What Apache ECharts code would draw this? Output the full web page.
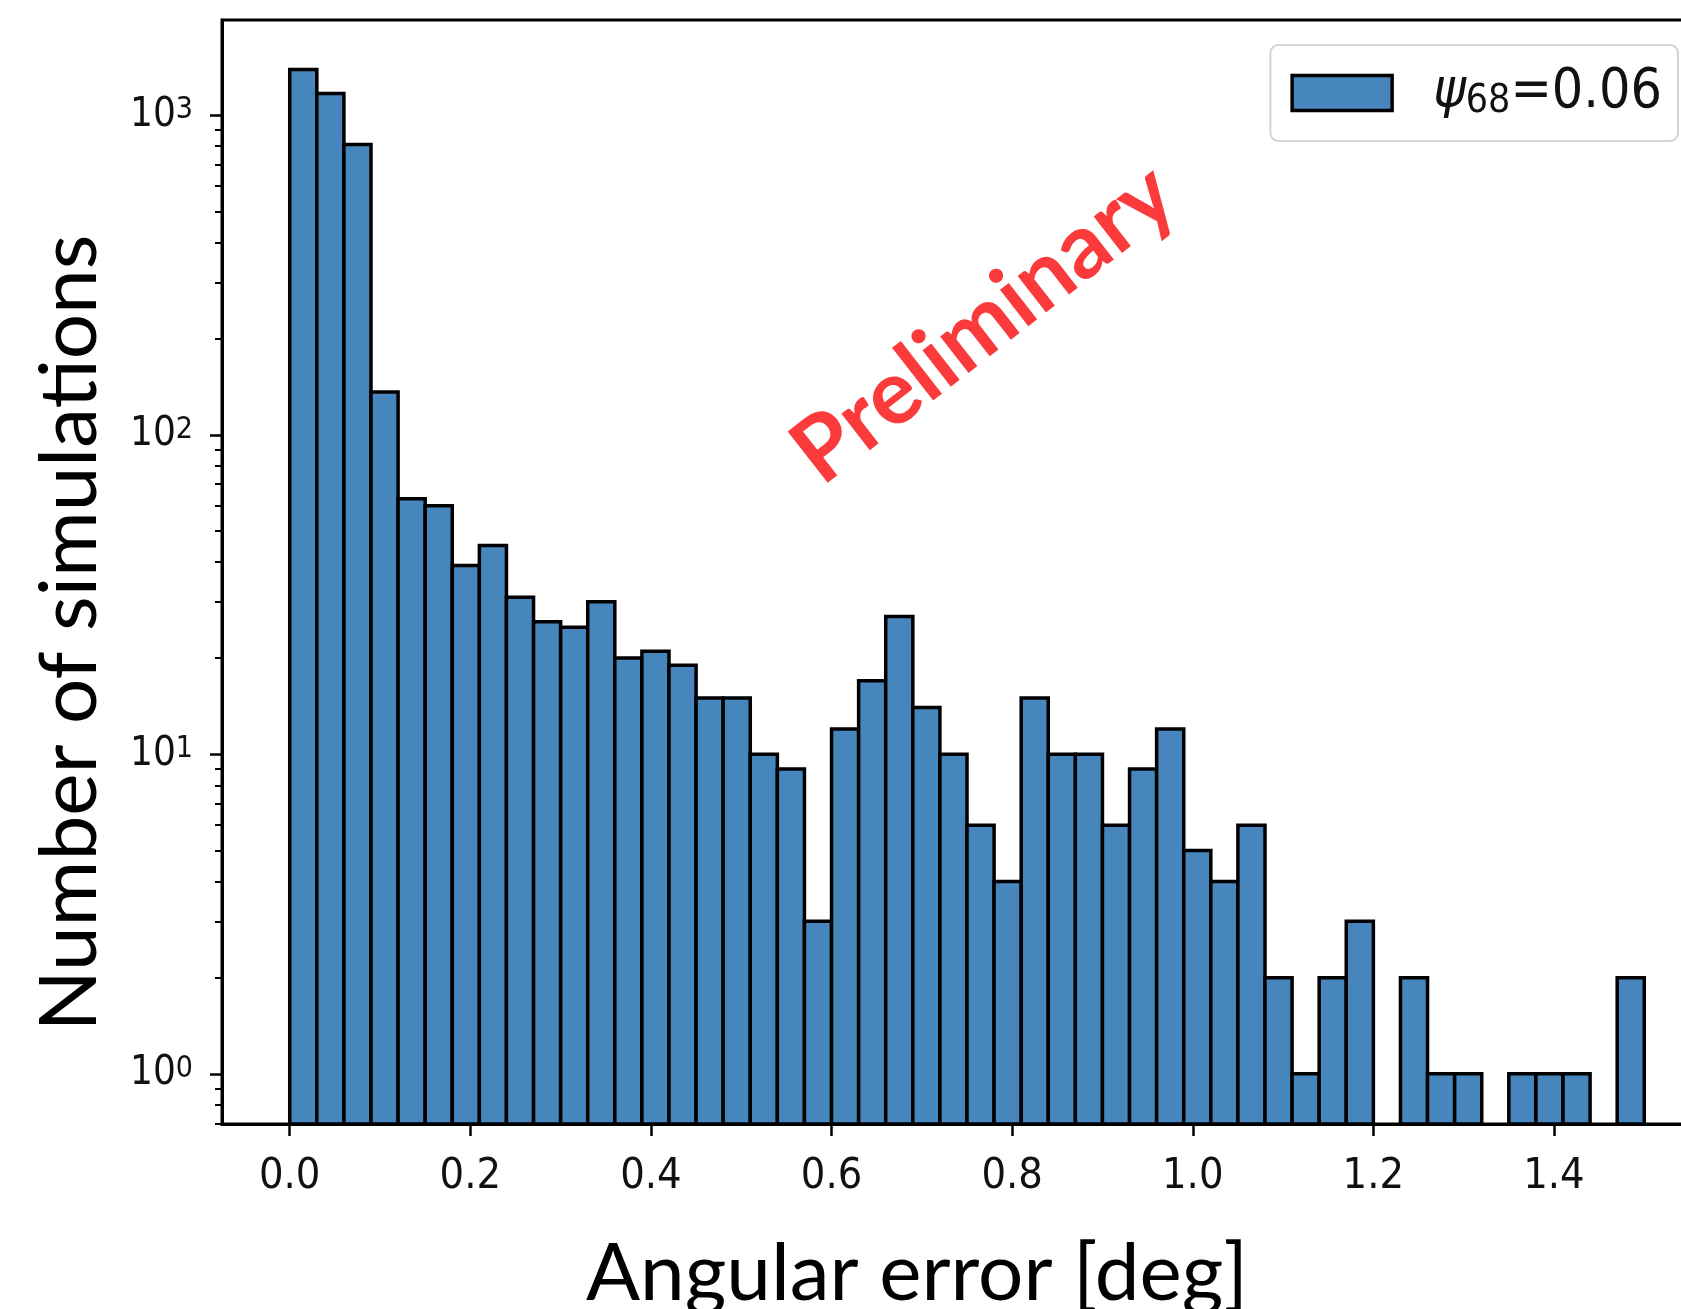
<!DOCTYPE html>
<html>
<head>
<meta charset="utf-8">
<script src="https://cdn.jsdelivr.net/npm/echarts@6/dist/echarts.min.js"></script>
<style>
  html, body { margin: 0; padding: 0; background: #ffffff; }
  #chart { width: 1681px; height: 1309px; }
</style>
</head>
<body>
<div id="chart"></div>
<script>
// Angular reconstruction error histogram, fixed-width bins starting at 0 deg
const binStart = 0.0;
const binWidth = 0.03;
const counts = [1390, 1170, 810, 136, 63, 60, 39, 45, 31, 26,
                25, 30, 20, 21, 19, 15, 15, 10, 9, 3,
                12, 17, 27, 14, 10, 6, 4, 15, 10, 10,
                6, 9, 12, 5, 4, 6, 2, 1, 2, 3,
                0, 2, 1, 1, 0, 1, 1, 1, 0, 2];
const xTicks = [0.0, 0.2, 0.4, 0.6, 0.8, 1.0, 1.2, 1.4];
const yMajorTicks = [1, 10, 100, 1000];
const yMinorTicks = [0.7, 0.8, 0.9, 2, 3, 4, 5, 6, 7, 8, 9,
                     20, 30, 40, 50, 60, 70, 80, 90,
                     200, 300, 400, 500, 600, 700, 800, 900];
const seriesName = 'ψ68=0.06';

const X_MIN = -0.075, X_MAX = 1.575;
const Y_MIN = 0.6966, Y_MAX = 1986;

const BAR_FILL = '#4786bd';
const EDGE_W = 3.5;
const TICK_FONT = "'DejaVu Sans Condensed', 'DejaVu Sans', sans-serif";
const TITLE_FONT = "Lato, 'Open Sans', sans-serif";

const binData = counts.map((c, i) => [
  binStart + i * binWidth,
  binStart + (i + 1) * binWidth,
  c > 0 ? c : '-'
]);

const chart = echarts.init(document.getElementById('chart'), null, { renderer: 'canvas' });

const logAxisBase = {
  type: 'log',
  logBase: 10,
  min: Y_MIN,
  max: Y_MAX,
  position: 'left',
  splitLine: { show: false },
  minorTick: { show: false },
  minorSplitLine: { show: false }
};

chart.setOption({
  backgroundColor: '#ffffff',
  animation: false,
  grid: {
    left: 222, top: 20, right: -31, bottom: 185,
    containLabel: false,
    outerBoundsMode: 'none',
    show: true,
    borderColor: '#000',
    borderWidth: 3,
    backgroundColor: 'transparent'
  },
  xAxis: {
    type: 'value',
    min: X_MIN,
    max: X_MAX,
    axisLine: { show: true, onZero: false, lineStyle: { color: '#000', width: 3 } },
    axisTick: { show: true, customValues: xTicks, length: 12, lineStyle: { color: '#000', width: 2.5 } },
    axisLabel: {
      customValues: xTicks,
      formatter: v => v.toFixed(1),
      color: '#111',
      fontFamily: TICK_FONT,
      fontSize: 43,
      margin: 31
    },
    splitLine: { show: false }
  },
  yAxis: [
    Object.assign({}, logAxisBase, {
      axisLine: { show: true, onZero: false, lineStyle: { color: '#000', width: 3 } },
      axisTick: { show: true, customValues: yMajorTicks, length: 12, lineStyle: { color: '#000', width: 2.5 } },
      axisLabel: {
        customValues: yMajorTicks,
        formatter: v => '10{sup|' + Math.round(Math.log10(v)) + '}',
        color: '#111',
        fontFamily: TICK_FONT,
        fontSize: 40,
        margin: 29,
        rich: {
          sup: { fontFamily: TICK_FONT, fontSize: 30, color: '#111', verticalAlign: 'top' }
        }
      }
    }),
    Object.assign({}, logAxisBase, {
      axisLine: { show: false, onZero: false },
      axisTick: { show: true, customValues: yMinorTicks, length: 7, lineStyle: { color: '#000', width: 2 } },
      axisLabel: { show: false }
    })
  ],
  legend: {
    right: 3,
    top: 45,
    icon: 'rect',
    itemWidth: 100,
    itemHeight: 35,
    padding: [20, 16, 20, 20],
    backgroundColor: 'rgba(255,255,255,0.8)',
    borderColor: '#d4d4d4',
    borderWidth: 2,
    borderRadius: 8,
    itemStyle: { color: BAR_FILL, borderColor: '#000', borderWidth: EDGE_W },
    data: [seriesName],
    formatter: () => '{psi|ψ}{sub|68}=0.06',
    textStyle: {
      color: '#111',
      fontFamily: TICK_FONT,
      fontSize: 55,
      lineHeight: 56,
      padding: [0, 0, 0, 36],
      rich: {
        psi: { fontFamily: TICK_FONT, fontSize: 55, fontStyle: 'italic', color: '#111' },
        sub: { fontFamily: TICK_FONT, fontSize: 39, color: '#111', verticalAlign: 'bottom' }
      }
    }
  },
  series: [{
    name: seriesName,
    type: 'custom',
    xAxisIndex: 0,
    yAxisIndex: 0,
    encode: { x: [0, 1], y: 2 },
    itemStyle: { color: BAR_FILL, borderColor: '#000', borderWidth: EDGE_W },
    data: binData,
    renderItem: (params, api) => {
      const v = api.value(2);
      if (!(v > 0)) return null;
      const topLeft = api.coord([api.value(0), v]);
      const bottomRight = api.coord([api.value(1), Y_MIN]);
      return {
        type: 'rect',
        shape: {
          x: topLeft[0],
          y: topLeft[1],
          width: bottomRight[0] - topLeft[0],
          height: bottomRight[1] - topLeft[1]
        },
        style: { fill: BAR_FILL, stroke: '#000', lineWidth: EDGE_W }
      };
    }
  }],
  graphic: [
    {
      type: 'text',
      x: 70, y: 633,
      rotation: Math.PI / 2,
      style: {
        text: 'Number of simulations',
        fontFamily: TITLE_FONT, fontSize: 80, fill: '#000',
        align: 'center', verticalAlign: 'middle',
        textAlign: 'center', textVerticalAlign: 'middle'
      }
    },
    {
      type: 'text',
      x: 917, y: 1274,
      style: {
        text: 'Angular error [deg]',
        fontFamily: TITLE_FONT, fontSize: 80, fill: '#000',
        align: 'center', verticalAlign: 'middle',
        textAlign: 'center', textVerticalAlign: 'middle'
      }
    },
    {
      type: 'text',
      x: 984, y: 324,
      rotation: 38 * Math.PI / 180,
      style: {
        text: 'Preliminary',
        fontFamily: TITLE_FONT, fontWeight: 'bold', fontSize: 90, fill: '#fb3b3b',
        align: 'center', verticalAlign: 'middle',
        textAlign: 'center', textVerticalAlign: 'middle'
      }
    }
  ]
});
</script>
</body>
</html>
